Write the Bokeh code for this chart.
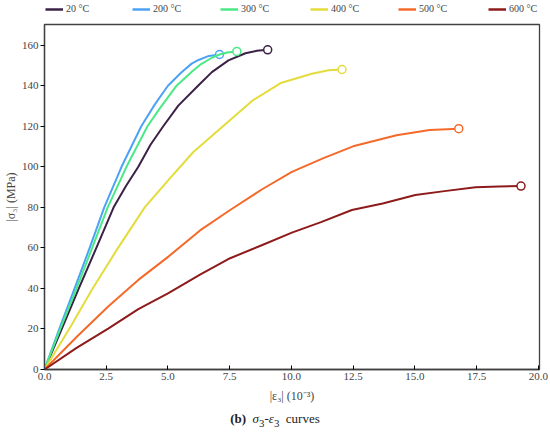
from bokeh.plotting import figure
from bokeh.models import Range1d, Legend, LegendItem, FixedTicker, NumeralTickFormatter, Div
from bokeh.layouts import column
from bokeh.embed import file_html
from bokeh.resources import INLINE

labels = ["20 °C", "200 °C", "300 °C", "400 °C", "500 °C", "600 °C"]
colors = ["#3a2145", "#4ea2f6", "#49ea85", "#e3dc3c", "#f46a2a", "#8e1b1b"]

strain_20 = [0, 0.70, 1.39, 2.10, 2.80, 3.30, 3.80, 4.30, 4.81, 5.42, 6.22, 6.78, 7.45, 8.14, 8.60, 9.04]
stress_20 = [0, 20, 40, 60, 80, 90.5, 100, 111, 120, 130.2, 140, 146.7, 152.5, 156.0, 157.2, 157.7]

strain_200 = [0, 0.60, 1.22, 1.83, 2.42, 3.12, 3.92, 4.47, 5.00, 5.53, 5.96, 6.24, 6.66, 7.09]
stress_200 = [0, 20, 40, 60, 80, 100, 120, 130.8, 140, 146.4, 150.9, 152.7, 154.7, 155.4]

strain_300 = [0, 0.64, 1.30, 1.93, 2.56, 3.32, 4.17, 4.67, 5.35, 6.00, 6.36, 6.78, 7.09, 7.40, 7.79]
stress_300 = [0, 20, 40, 60, 80, 100, 120, 128.8, 140, 147.3, 150.8, 153.8, 155.4, 156.4, 156.9]

strain_400 = [0, 1.00, 1.95, 2.98, 4.06, 5.05, 6.03, 7.37, 8.44, 9.60, 10.83, 11.50, 12.05]
stress_400 = [0, 20, 40, 60, 80, 93.9, 107.3, 121.5, 132.8, 141.5, 145.9, 147.6, 148.0]

strain_500 = [0, 1.34, 2.58, 3.80, 5.02, 6.30, 7.52, 8.80, 10.02, 11.30, 12.50, 14.26, 15.60, 16.78]
stress_500 = [0, 16.5, 31.1, 44.2, 55.7, 68.6, 78.7, 88.8, 97.5, 104.3, 110.1, 115.6, 118.1, 118.8]

strain_600 = [0, 1.30, 2.58, 3.80, 5.02, 6.30, 7.52, 8.80, 10.02, 11.20, 12.45, 13.70, 15.02, 16.20, 17.46, 18.40, 19.30]
stress_600 = [0, 10.7, 20.2, 29.8, 37.7, 46.8, 54.9, 61.3, 67.5, 72.7, 78.7, 81.9, 86.1, 88.0, 89.9, 90.3, 90.5]

x_ticks = [0, 2.5, 5.0, 7.5, 10.0, 12.5, 15.0, 17.5, 20.0]
y_ticks = [0, 20, 40, 60, 80, 100, 120, 140, 160]

series_x = [strain_20, strain_200, strain_300, strain_400, strain_500, strain_600]
series_y = [stress_20, stress_200, stress_300, stress_400, stress_500, stress_600]

FONT = "Liberation Serif"
FW, FH = 495, 345
BORDER_L, BORDER_R = 44, 10
legend_offsets = [1, 88, 176, 266, 354, 444]   # screen px from the frame's left edge

# ---- legend strip (separate small figure above the chart) ----
leg = figure(frame_width=FW, frame_height=16, output_backend="svg", toolbar_location=None,
             x_axis_type=None, y_axis_type=None,
             x_range=Range1d(0, 1), y_range=Range1d(0, 1),
             min_border_left=BORDER_L, min_border_right=BORDER_R,
             min_border_top=0, min_border_bottom=0)
leg.xgrid.visible = False
leg.ygrid.visible = False
leg.outline_line_color = None
for c, lab, off in zip(colors, labels, legend_offsets):
    # legend-key renderer kept outside the visible range: only its key is shown
    lr = leg.line([-2, -1], [-2, -2], line_color=c, line_width=2.5)
    lg = Legend(items=[LegendItem(label=lab, renderers=[lr])], orientation="horizontal",
                location=(off, 2), glyph_width=18, glyph_height=10, label_standoff=3,
                padding=0, margin=0, label_height=10,
                border_line_color=None, background_fill_alpha=0,
                label_text_font=FONT, label_text_font_size="10px")
    leg.add_layout(lg)

# ---- main chart ----
p = figure(frame_width=FW, frame_height=FH, output_backend="svg", toolbar_location=None,
           x_range=Range1d(0, 20.05), y_range=Range1d(0, 170.2),
           min_border_left=BORDER_L, min_border_right=BORDER_R, min_border_top=8,
           min_border_bottom=0)
p.xgrid.visible = False
p.ygrid.visible = False
p.outline_line_color = "#404040"
p.outline_line_width = 1.3

for xs, ys, c in zip(series_x, series_y, colors):
    p.line(xs, ys, line_color=c, line_width=2, line_join="round")
    p.scatter([xs[-1]], [ys[-1]], size=8, marker="circle", fill_color="white",
              line_color=c, line_width=1.5)

xa = p.xaxis[0]
xa.ticker = FixedTicker(ticks=x_ticks)
xa.formatter = NumeralTickFormatter(format="0.0")
xa.major_tick_in = 4
xa.major_tick_out = 0
xa.minor_tick_line_color = None
xa.axis_line_color = "#404040"
xa.axis_line_width = 1.3
xa.major_label_text_font = FONT
xa.major_label_text_font_size = "11px"
xa.major_label_standoff = 3
xa.axis_label = "|ε₃| (10⁻³)"
xa.axis_label_text_font = FONT
xa.axis_label_text_font_style = "normal"
xa.axis_label_text_font_size = "12px"
xa.axis_label_standoff = 6

ya = p.yaxis[0]
ya.ticker = FixedTicker(ticks=y_ticks)
ya.major_tick_in = 0
ya.major_tick_out = 4
ya.minor_tick_line_color = None
ya.axis_line_color = "#404040"
ya.axis_line_width = 1.3
ya.major_label_text_font = FONT
ya.major_label_text_font_size = "11px"
ya.major_label_standoff = 2
ya.axis_label = "|σ₃| (MPa)"
ya.axis_label_text_font = FONT
ya.axis_label_text_font_style = "normal"
ya.axis_label_text_font_size = "12px"
ya.axis_label_standoff = 1

caption = Div(text="<b>(b)</b>&nbsp; <i>σ</i><sub>3</sub>-<i>ε</i><sub>3</sub>&nbsp; curves",
              width=540, height=24,
              styles={"text-align": "center", "font-family": FONT, "font-size": "13px",
                      "color": "#222222"})

layout = column(leg, p, caption, spacing=0)
open("out.html", "w").write(file_html(layout, INLINE))
